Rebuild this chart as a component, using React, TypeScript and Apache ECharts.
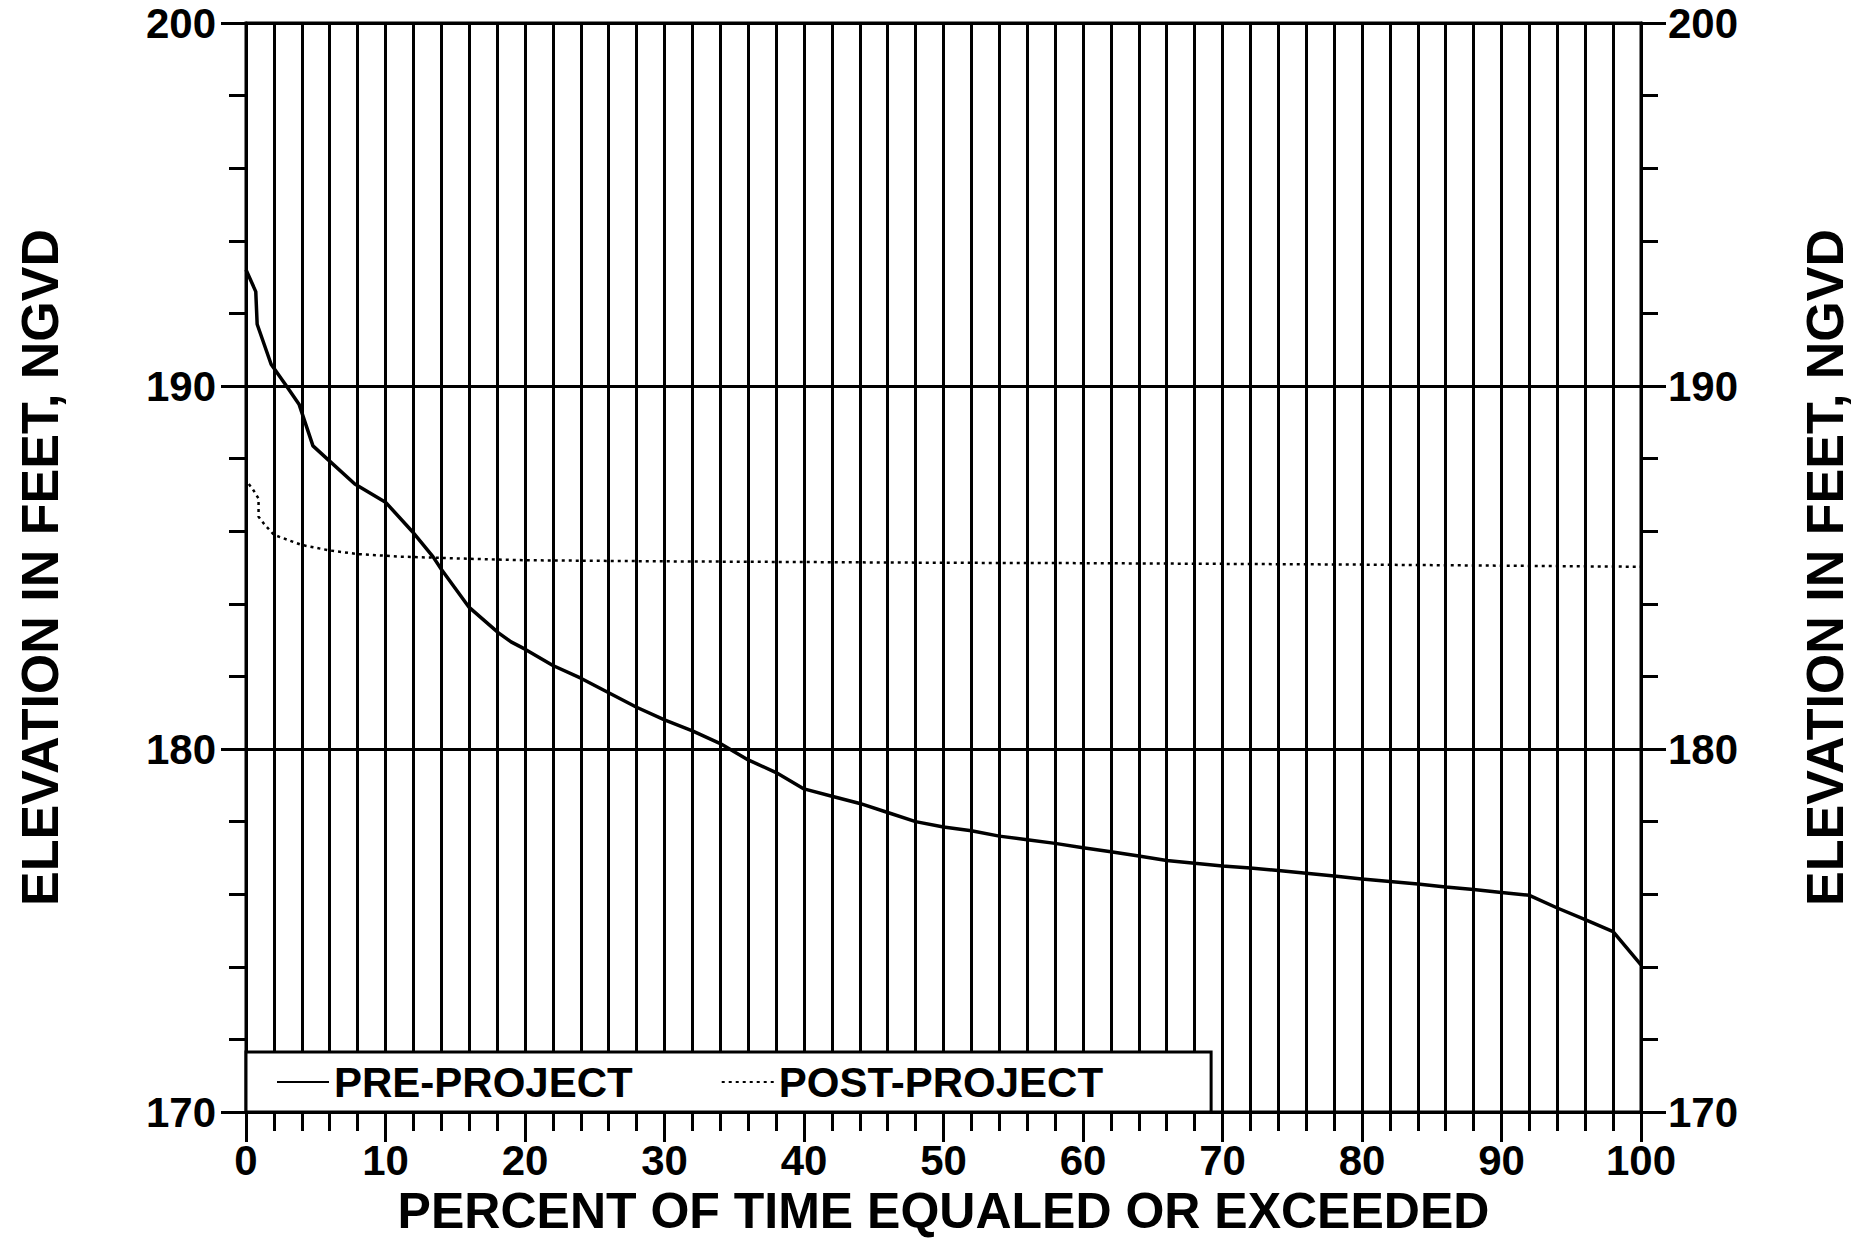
import React, { useEffect, useRef } from "react";
import * as echarts from "echarts";

// ---- data ----
const seriesNames = ["PRE-PROJECT", "POST-PROJECT"];

const prePercent = [
  0, 0.7, 0.8, 1.8, 2.9, 3.8, 4.8, 5.8, 7.8, 10, 11.9, 13.4, 14, 16, 18.1, 19, 20,
  22, 24, 26, 28, 30, 32, 34, 36, 38, 40, 42, 44, 46, 48, 50, 52, 54, 56, 58, 60,
  62, 64, 66, 68, 70, 72, 74, 76, 78, 80, 82, 84, 86, 88, 90, 92, 94, 96, 98, 100,
];
const preElevation = [
  193.2, 192.6, 191.7, 190.6, 190.0, 189.5, 188.35, 188.0, 187.3, 186.8, 186.0,
  185.3, 184.95, 183.9, 183.2, 182.95, 182.75, 182.3, 181.95, 181.55, 181.15,
  180.8, 180.5, 180.15, 179.7, 179.35, 178.9, 178.7, 178.5, 178.25, 178.0, 177.85,
  177.75, 177.6, 177.5, 177.4, 177.28, 177.17, 177.05, 176.93, 176.85, 176.78,
  176.72, 176.65, 176.58, 176.5, 176.42, 176.35, 176.28, 176.2, 176.13, 176.05,
  175.97, 175.62, 175.3, 174.97, 174.05,
];

const postPercent = [
  0.2, 0.5, 0.9, 0.9, 1.3, 2, 4, 6, 8, 11, 16, 20, 30, 40, 50, 60, 70, 80, 90, 100,
];
const postElevation = [
  187.3, 187.15, 186.9, 186.4, 186.2, 185.9, 185.62, 185.47, 185.37, 185.3,
  185.24, 185.2, 185.17, 185.15, 185.13, 185.12, 185.1, 185.08, 185.05, 185.02,
];

const xMin = 0;
const xMax = 100;
const xMajor = 10;
const yMin = 170;
const yMax = 200;
const yMajor = 10;

const xTitle = "PERCENT OF TIME EQUALED OR EXCEEDED";
const yTitle = "ELEVATION IN FEET, NGVD";

const FONT = "'Liberation Sans', Arial, Helvetica, sans-serif";
const BLACK = "#000";

export default function App() {
  const ref = useRef<HTMLDivElement>(null);

  useEffect(() => {
    if (!ref.current) return;
    const chart = echarts.init(ref.current, undefined, { renderer: "svg" });

    const pre = prePercent.map((p, i) => [p, preElevation[i]]);
    const post = postPercent.map((p, i) => [p, postElevation[i]]);

    const labelStyle = {
      color: BLACK,
      fontFamily: FONT,
      fontWeight: "bold" as const,
      fontSize: 42,
    };

    const yCommon = {
      type: "value" as const,
      min: yMin,
      max: yMax,
      interval: yMajor,
      name: yTitle,
      nameLocation: "middle" as const,
      nameRotate: 90,
      nameTextStyle: {
        color: BLACK,
        fontFamily: FONT,
        fontWeight: "bold" as const,
        fontSize: 52,
      },
      axisLine: { show: true, lineStyle: { color: BLACK, width: 3 } },
      axisTick: { show: true, length: 25, lineStyle: { color: BLACK, width: 3 } },
      minorTick: {
        show: true,
        splitNumber: 5,
        length: 17,
        lineStyle: { color: BLACK, width: 3 },
      },
      minorSplitLine: { show: false },
    };

    chart.setOption({
      animation: false,
      backgroundColor: "#fff",
      grid: {
        left: 246,
        right: 223,
        top: 23,
        bottom: 127,
        show: true,
        borderColor: BLACK,
        borderWidth: 3,
        backgroundColor: "transparent",
        outerBoundsMode: "none",
        containLabel: false,
      },
      legend: {
        data: seriesNames,
        selectedMode: false,
        orient: "horizontal",
        left: 246,
        bottom: 127,
        backgroundColor: "#fff",
        borderColor: BLACK,
        borderWidth: 3,
        borderRadius: 0,
        padding: [9, 108, 9, 30],
        itemWidth: 52,
        itemHeight: 20,
        itemGap: 88,
        itemStyle: { opacity: 0 },
        textStyle: {
          color: BLACK,
          fontFamily: FONT,
          fontWeight: "bold",
          fontSize: 42,
        },
        z: 10,
      },
      xAxis: {
        type: "value",
        min: xMin,
        max: xMax,
        interval: xMajor,
        name: xTitle,
        nameLocation: "middle",
        nameGap: 75,
        nameTextStyle: {
          color: BLACK,
          fontFamily: FONT,
          fontWeight: "bold",
          fontSize: 50,
          lineHeight: 42,
        },
        axisLine: { show: true, lineStyle: { color: BLACK, width: 3 } },
        axisTick: { show: true, length: 30, lineStyle: { color: BLACK, width: 3 } },
        minorTick: {
          show: true,
          splitNumber: 5,
          length: 19,
          lineStyle: { color: BLACK, width: 3 },
        },
        splitLine: { show: true, lineStyle: { color: BLACK, width: 3 } },
        minorSplitLine: { show: true, lineStyle: { color: BLACK, width: 3 } },
        axisLabel: { ...labelStyle, margin: 27 },
      },
      yAxis: [
        {
          ...yCommon,
          position: "left",
          nameGap: 180,
          splitLine: { show: true, lineStyle: { color: BLACK, width: 3 } },
          axisLabel: { ...labelStyle, margin: 30, lineHeight: 34 },
        },
        {
          ...yCommon,
          position: "right",
          nameGap: 158,
          splitLine: { show: false },
          axisLabel: { ...labelStyle, margin: 27, lineHeight: 34 },
        },
      ],
      series: [
        {
          name: seriesNames[0],
          type: "line",
          data: pre,
          symbol: "none",
          showSymbol: false,
          lineStyle: { color: BLACK, width: 3.5, type: "solid" },
          itemStyle: { color: BLACK },
          z: 5,
        },
        {
          name: seriesNames[1],
          type: "line",
          data: post,
          symbol: "none",
          showSymbol: false,
          lineStyle: { color: BLACK, width: 2.5, type: [3, 4] },
          itemStyle: { color: BLACK },
          z: 5,
        },
      ],
    });

    return () => chart.dispose();
  }, []);

  return (
    <div
      ref={ref}
      style={{
        position: "fixed",
        left: 0,
        top: 0,
        width: "1864px",
        height: "1239px",
        background: "#fff",
      }}
    />
  );
}
